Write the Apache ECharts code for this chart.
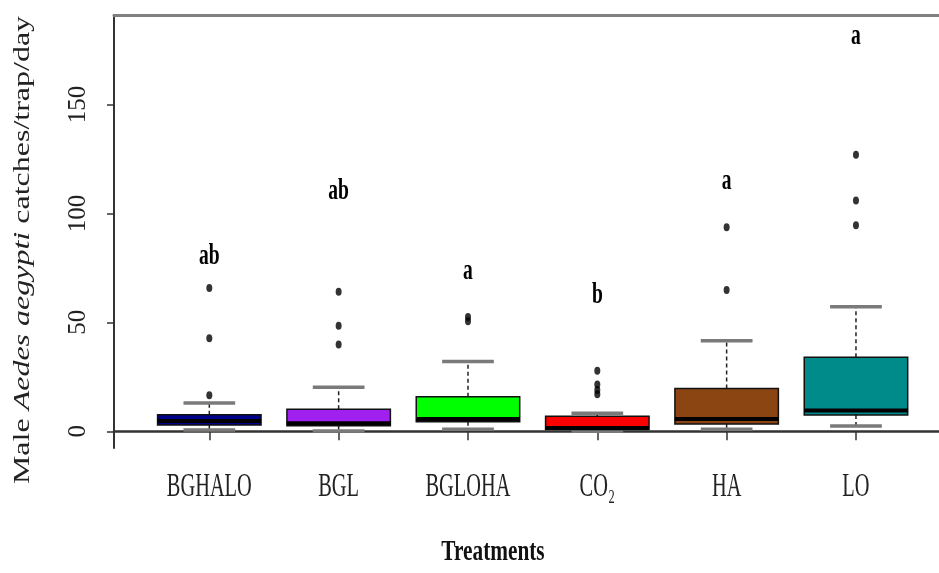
<!DOCTYPE html>
<html><head><meta charset="utf-8">
<script src="https://cdn.jsdelivr.net/npm/echarts@6/dist/echarts.min.js"></script>
<style>html,body{margin:0;padding:0;background:#fff}#c{width:939px;height:573px}</style>
</head><body><div id="c"></div>
<script>
// ---- data ----
const categories = ['BGHALO', 'BGL', 'BGLOHA', 'CO₂', 'HA', 'LO'];
const whiskerLow  = [0.6, 0.1, 0.9, 0.0, 0.9, 2.4];
const q1          = [2.9, 2.6, 4.4, 0.8, 3.4, 7.5];
const median      = [4.7, 3.7, 5.6, 1.5, 5.6, 9.5];
const q3          = [7.6, 10.1, 15.9, 6.9, 19.7, 34.0];
const whiskerHigh = [13.0, 20.2, 32.0, 8.3, 41.6, 57.2];
const outBGHALO = [16.5, 42.7, 65.8];
const outBGL    = [39.8, 48.5, 64.0];
const outBGLOHA = [50.5, 52.5];
const outCO2    = [17.0, 19.0, 21.5, 27.8];
const outHA     = [64.9, 93.7];
const outLO     = [94.6, 105.9, 126.9];
const letters   = ['ab', 'ab', 'a', 'b', 'a', 'a'];
const letterY   = [80.2, 110.0, 73.3, 62.5, 114.6, 181.2];
const yTicks    = [0, 50, 100, 150];
const xTicks    = [1, 2, 3, 4, 5, 6];

// ---- styling ----
const boxColors = ['#00008B', '#A020F0', '#00FF00', '#FF0000', '#8B4513', '#008B8B'];
const SERIF = "'Liberation Serif', 'Times New Roman', serif";
const X_MIN = 0.263, X_MAX = 6.642, Y_MIN = -7.67, Y_MAX = 191.1;

const outliers = [outBGHALO, outBGL, outBGLOHA, outCO2, outHA, outLO];
const boxData = categories.map((c, i) => [i + 1, whiskerLow[i], q1[i], median[i], q3[i], whiskerHigh[i]]);
const outlierData = [];
outliers.forEach((arr, i) => arr.forEach(v => outlierData.push([i + 1, v])));
const letterData = letters.map((t, i) => [i + 1, letterY[i]]);
const labelData = categories.map((c, i) => [i + 1, Y_MIN]);

function renderBox(params, api) {
  const x = api.value(0);
  const lo = api.coord([x, api.value(1)]);
  const p1 = api.coord([x, api.value(2)]);
  const pm = api.coord([x, api.value(3)]);
  const p3 = api.coord([x, api.value(4)]);
  const hi = api.coord([x, api.value(5)]);
  const boxW = api.size([0.8, 0])[0];
  const capW = api.size([0.4, 0])[0];
  const cx = lo[0];
  const wStyle = { stroke: '#222', lineWidth: 1.5, lineDash: [4, 3] };
  const capStyle = { stroke: '#7a7a7a', lineWidth: 3.5 };
  return {
    type: 'group',
    children: [
      { type: 'line', shape: { x1: cx, y1: p3[1], x2: cx, y2: hi[1] }, style: wStyle },
      { type: 'line', shape: { x1: cx, y1: p1[1], x2: cx, y2: lo[1] }, style: wStyle },
      { type: 'line', shape: { x1: cx - capW / 2, y1: hi[1], x2: cx + capW / 2, y2: hi[1] }, style: capStyle },
      { type: 'line', shape: { x1: cx - capW / 2, y1: lo[1], x2: cx + capW / 2, y2: lo[1] }, style: capStyle },
      { type: 'rect', shape: { x: cx - boxW / 2, y: p3[1], width: boxW, height: p1[1] - p3[1] },
        style: { fill: boxColors[params.dataIndex], stroke: '#111', lineWidth: 1.5 } },
      { type: 'line', shape: { x1: cx - boxW / 2, y1: pm[1], x2: cx + boxW / 2, y2: pm[1] },
        style: { stroke: '#000', lineWidth: 4 } }
    ]
  };
}

function renderLetter(params, api) {
  const p = api.coord([api.value(0), api.value(1)]);
  return {
    type: 'text', x: p[0], y: p[1], scaleX: 0.65,
    style: { text: letters[params.dataIndex], font: 'bold 30px ' + SERIF, fill: '#000',
      align: 'center', verticalAlign: 'middle', textAlign: 'center', textVerticalAlign: 'middle' }
  };
}

function renderLabel(params, api) {
  const p = api.coord([api.value(0), api.value(1)]);
  return {
    type: 'text', x: p[0], y: p[1] + 39, scaleX: 0.6,
    style: { text: categories[params.dataIndex], font: '34px ' + SERIF, fill: '#222',
      align: 'center', verticalAlign: 'middle', textAlign: 'center', textVerticalAlign: 'middle' }
  };
}

const chart = echarts.init(document.getElementById('c'));
chart.setOption({
  animation: false,
  backgroundColor: '#fff',
  grid: { left: 114, top: 15, right: 0, height: 433 },
  xAxis: [
    { type: 'value', min: X_MIN, max: X_MAX, position: 'bottom',
      splitLine: { show: false },
      axisLine: { show: true, lineStyle: { color: '#333', width: 2.5 } },
      axisTick: { show: true, customValues: xTicks, length: 9, lineStyle: { color: '#333', width: 1.5 } },
      axisLabel: { show: false } },
    { type: 'value', min: X_MIN, max: X_MAX, position: 'top',
      splitLine: { show: false },
      axisLine: { show: true, lineStyle: { color: '#808080', width: 3 } },
      axisTick: { show: false }, axisLabel: { show: false } }
  ],
  yAxis: {
    type: 'value', min: Y_MIN, max: Y_MAX,
    splitLine: { show: false },
    axisLine: { show: true, lineStyle: { color: '#333', width: 2 } },
    axisTick: { show: true, customValues: yTicks, length: 7, lineStyle: { color: '#333', width: 1.5 } },
    axisLabel: { customValues: yTicks, rotate: 90, margin: 23, fontFamily: SERIF, fontSize: 25, color: '#222' }
  },
  graphic: [
    { type: 'text', x: 23, y: 250, rotation: Math.PI / 2, scaleY: 0.7,
      style: { text: '{n|Male }{i|Aedes aegypti}{n| catches/trap/day}',
        rich: { n: { font: '32px ' + SERIF, fill: '#222', color: '#222' },
                i: { font: 'italic 32px ' + SERIF, fill: '#222', color: '#222' } },
        align: 'center', verticalAlign: 'middle', textAlign: 'center', textVerticalAlign: 'middle' } },
    { type: 'text', x: 493, y: 552, scaleX: 0.71,
      style: { text: 'Treatments', font: 'bold 30px ' + SERIF, fill: '#111',
        align: 'center', verticalAlign: 'middle', textAlign: 'center', textVerticalAlign: 'middle' } }
  ],
  series: [
    { type: 'custom', renderItem: renderBox, data: boxData, encode: { x: 0, y: [1, 2, 3, 4, 5] } },
    { type: 'scatter', data: outlierData, symbol: 'circle', symbolSize: [6, 8],
      itemStyle: { color: '#000' } },
    { type: 'custom', renderItem: renderLetter, data: letterData, encode: { x: 0, y: 1 } },
    { type: 'custom', renderItem: renderLabel, data: labelData, encode: { x: 0, y: 1 } }
  ]
});
</script></body></html>
